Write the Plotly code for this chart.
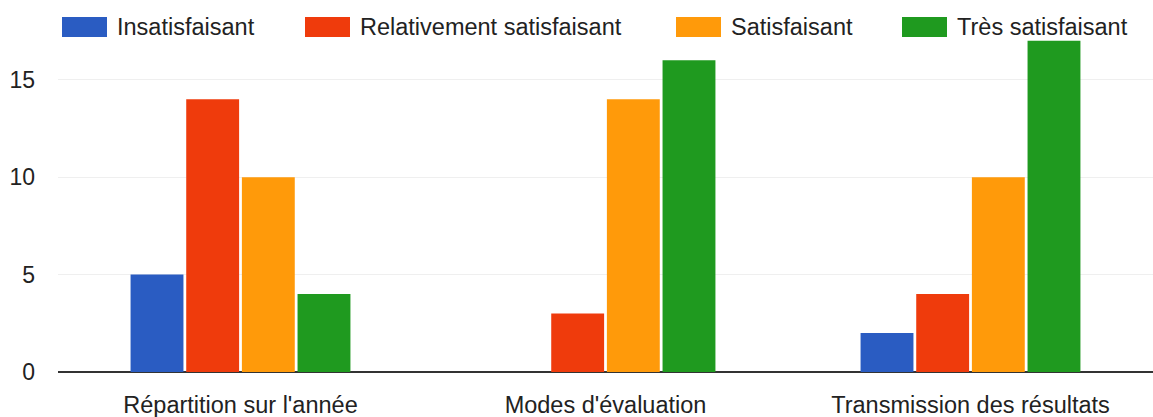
import plotly.graph_objects as go

categories = ["Répartition sur l'année", "Modes d'évaluation", "Transmission des résultats"]
series_names = ["Insatisfaisant", "Relativement satisfaisant", "Satisfaisant", "Très satisfaisant"]
insatisfaisant = [5, 0, 2]
relativement = [14, 3, 4]
satisfaisant = [10, 14, 10]
tres_satisfaisant = [4, 16, 17]
y_ticks = [0, 5, 10, 15]

colors = ["#2a5cc2", "#ef3b0c", "#ff9a0a", "#1f9a1f"]
values = [insatisfaisant, relativement, satisfaisant, tres_satisfaisant]

W, H = 1153, 417
ML, MR, MT, MB = 58, 0, 35, 45
FONT = "Liberation Sans, Arial, sans-serif"

fig = go.Figure()
for name, vals, col in zip(series_names, values, colors):
    fig.add_trace(go.Bar(x=categories, y=vals, name=name, marker=dict(color=col, line=dict(width=0))))


def px_x(p):
    return (p - ML) / (W - ML - MR)


def px_y(p):
    return (H - MB - p) / (H - MT - MB)


# hand-made legend with wide swatches
legend_pos = [62, 305, 676, 902]
shapes, annotations = [], []
for x0, name, col in zip(legend_pos, series_names, colors):
    shapes.append(dict(type="rect", xref="paper", yref="paper",
                       x0=px_x(x0), x1=px_x(x0 + 45), y0=px_y(37), y1=px_y(17),
                       fillcolor=col, line=dict(width=0)))
    annotations.append(dict(xref="paper", yref="paper", x=px_x(x0 + 53), y=px_y(27),
                            text=name, showarrow=False, xanchor="left", yanchor="middle",
                            font=dict(size=23.5, color="#222", family=FONT)))

fig.update_layout(
    width=W, height=H,
    margin=dict(l=ML, r=MR, t=MT, b=MB),
    barmode="group", bargap=0.39, bargroupgap=0.05,
    showlegend=False,
    plot_bgcolor="white", paper_bgcolor="white",
    font=dict(family=FONT, size=23, color="#222"),
    shapes=shapes, annotations=annotations,
    xaxis=dict(showgrid=False, showline=False, ticks="", ticklabelstandoff=16,
               automargin=False, tickfont=dict(size=23.5)),
    yaxis=dict(range=[0, 17.3], tickvals=y_ticks, showgrid=True, gridcolor="#efefef",
               gridwidth=1, zeroline=True, zerolinecolor="#333", zerolinewidth=2,
               showline=False, ticklabelstandoff=22, automargin=False),
)

fig.write_html("out.html", config={"displayModeBar": False},
               post_script="document.body.style.margin='0px';")
